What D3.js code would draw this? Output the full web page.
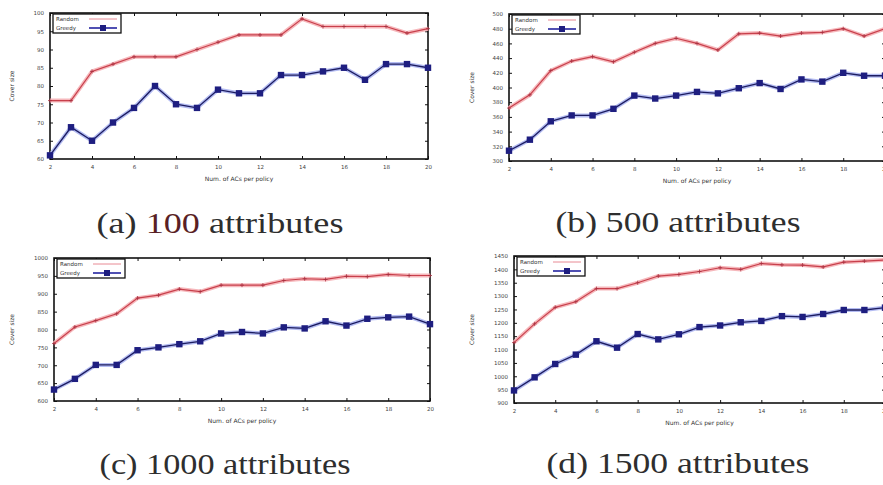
<!DOCTYPE html>
<html>
<head>
<meta charset="utf-8">
<script src="https://cdn.jsdelivr.net/npm/d3@7"></script>
<style>
  body { margin: 0; background: #fff; }
  svg { display: block; }
  .tick text { font-family: "DejaVu Sans", sans-serif; font-size: 5.5px; fill: #444; }
  .tick line { stroke: #111; stroke-width: 1; }
  .domain { display: none; }
</style>
</head>
<body>
<div id="chart"></div>
<script>
// x values: number of ACs per policy
const numACs = [2, 3, 4, 5, 6, 7, 8, 9, 10, 11, 12, 13, 14, 15, 16, 17, 18, 19, 20];
const xTicks = [2, 4, 6, 8, 10, 12, 14, 16, 18, 20];

// (a) 100 attributes
const random100 = [76, 76, 84, 86, 88, 88, 88, 90, 92, 94, 94, 94, 98.4, 96.3, 96.3, 96.3, 96.3, 94.5, 95.7];
const greedy100 = [61, 68.7, 65, 70, 74, 80, 75, 74, 79, 78, 78, 83, 83, 84, 85, 81.7, 86, 86, 85];
const yTicks100 = [60, 65, 70, 75, 80, 85, 90, 95, 100];

// (b) 500 attributes
const random500 = [372, 390, 423, 436, 442, 435, 448, 460, 467, 460, 451, 473, 474, 470, 474, 475, 480, 470, 480];
const greedy500 = [314, 329, 354, 362, 362, 371, 389, 385, 389, 394, 392, 399, 406, 398, 411, 408, 420, 416, 416];
const yTicks500 = [300, 320, 340, 360, 380, 400, 420, 440, 460, 480, 500];

// (c) 1000 attributes
const random1000 = [761, 807, 825, 844, 888, 896, 913, 906, 924, 924, 924, 937, 942, 940, 949, 948, 954, 951, 951];
const greedy1000 = [632, 662, 701, 701, 742, 750, 759, 767, 789, 793, 789, 806, 803, 823, 811, 830, 834, 836, 815];
const yTicks1000 = [600, 650, 700, 750, 800, 850, 900, 950, 1000];

// (d) 1500 attributes
const random1500 = [1126, 1196, 1258, 1279, 1328, 1328, 1350, 1375, 1381, 1392, 1406, 1400, 1422, 1417, 1416, 1409, 1427, 1431, 1435];
const greedy1500 = [947, 996, 1046, 1081, 1131, 1107, 1158, 1138, 1157, 1184, 1190, 1202, 1207, 1225, 1222, 1233, 1248, 1248, 1257];
const yTicks1500 = [900, 950, 1000, 1050, 1100, 1150, 1200, 1250, 1300, 1350, 1400, 1450];

const seriesNames = ["Random", "Greedy"];
const captionsLabel = ["(a) ", "(b) ", "(c) ", "(d) "];
const captionsNum = ["100", "500", "1000", "1500"];

// layout of each panel (frame box, caption position)
const panels = [
  { random: random100, greedy: greedy100, yTicks: yTicks100,
    x0: 50, x1: 428, y0: 13, y1: 159, ylabX: 14, capX: 220, capY: 233, capW: 247, numColor: "#5a1f25" },
  { random: random500, greedy: greedy500, yTicks: yTicks500,
    x0: 509, x1: 885, y0: 14, y1: 161, ylabX: 474, capX: 678, capY: 232, capW: 245, numColor: "#2e2e2e" },
  { random: random1000, greedy: greedy1000, yTicks: yTicks1000,
    x0: 54, x1: 430, y0: 258, y1: 401, ylabX: 14, capX: 225, capY: 474, capW: 251, numColor: "#2e2e2e" },
  { random: random1500, greedy: greedy1500, yTicks: yTicks1500,
    x0: 514, x1: 885, y0: 256, y1: 403, ylabX: 474, capX: 678, capY: 473, capW: 263, numColor: "#2e2e2e" }
];

const svg = d3.select("#chart").append("svg")
  .attr("width", 883)
  .attr("height", 485);

const fmt = d3.format("d");

panels.forEach((p, i) => {
  const g = svg.append("g");
  const x = d3.scaleLinear().domain([2, 20]).range([p.x0, p.x1]);
  const y = d3.scaleLinear()
    .domain([p.yTicks[0], p.yTicks[p.yTicks.length - 1]])
    .range([p.y1, p.y0]);

  // axes with inward ticks on all four sides
  g.append("g").attr("transform", `translate(0,${p.y1})`)
    .call(d3.axisBottom(x).tickValues(xTicks).tickFormat(fmt).tickSizeInner(-3).tickSizeOuter(0).tickPadding(6));
  g.append("g").attr("transform", `translate(0,${p.y0})`)
    .call(d3.axisTop(x).tickValues(xTicks).tickSizeInner(-3).tickSizeOuter(0).tickFormat(""));
  g.append("g").attr("transform", `translate(${p.x0},0)`)
    .call(d3.axisLeft(y).tickValues(p.yTicks).tickFormat(fmt).tickSizeInner(-3).tickSizeOuter(0).tickPadding(6));
  g.append("g").attr("transform", `translate(${p.x1},0)`)
    .call(d3.axisRight(y).tickValues(p.yTicks).tickSizeInner(-3).tickSizeOuter(0).tickFormat(""));

  // frame
  g.append("rect")
    .attr("x", p.x0).attr("y", p.y0)
    .attr("width", p.x1 - p.x0).attr("height", p.y1 - p.y0)
    .attr("fill", "none").attr("stroke", "#111").attr("stroke-width", 1.6);

  const line = d3.line().x((d, k) => x(numACs[k])).y(d => y(d));

  // random: red line with pink glow
  g.append("path").datum(p.random).attr("d", line)
    .attr("fill", "none").attr("stroke", "#f6b8bc").attr("stroke-width", 4);
  g.append("path").datum(p.random).attr("d", line)
    .attr("fill", "none").attr("stroke", "#c8404c").attr("stroke-width", 1.2);
  g.selectAll(".plus").data(p.random).enter().append("path")
    .attr("d", (d, k) => `M${x(numACs[k]) - 2},${y(d)}h4M${x(numACs[k])},${y(d) - 2}v4`)
    .attr("stroke", "#a83040").attr("stroke-width", 0.8);

  // greedy: blue line with squares
  g.append("path").datum(p.greedy).attr("d", line)
    .attr("fill", "none").attr("stroke", "#b4bcf2").attr("stroke-width", 4);
  g.append("path").datum(p.greedy).attr("d", line)
    .attr("fill", "none").attr("stroke", "#1c1c60").attr("stroke-width", 1.3);
  g.selectAll(".sq").data(p.greedy).enter().append("rect")
    .attr("x", (d, k) => x(numACs[k]) - 3.2)
    .attr("y", d => y(d) - 3.2)
    .attr("width", 6.4).attr("height", 6.4)
    .attr("fill", "#1e1e80");

  // legend
  const lx = p.x0 + 3, ly = p.y0 + 1;
  const leg = g.append("g");
  leg.append("rect").attr("x", lx).attr("y", ly).attr("width", 68).attr("height", 19)
    .attr("fill", "#fff").attr("stroke", "#111").attr("stroke-width", 1.3);
  seriesNames.forEach((name, k) => {
    const yy = ly + 5 + k * 9;
    leg.append("text").attr("x", lx + 3).attr("y", yy + 2)
      .attr("font-family", "DejaVu Sans, sans-serif").attr("font-size", 5.5).attr("fill", "#333")
      .text(name);
    leg.append("line").attr("x1", lx + 36).attr("x2", lx + 64).attr("y1", yy).attr("y2", yy)
      .attr("stroke", k === 0 ? "#e88a94" : "#2424a0").attr("stroke-width", k === 0 ? 1 : 1.6);
    if (k === 1) {
      leg.append("rect").attr("x", lx + 47).attr("y", yy - 3).attr("width", 6).attr("height", 6)
        .attr("fill", "#1e1e80");
    }
  });

  // axis titles
  g.append("text")
    .attr("x", (p.x0 + p.x1) / 2).attr("y", p.y1 + 22)
    .attr("text-anchor", "middle")
    .attr("font-family", "DejaVu Sans, sans-serif").attr("font-size", 6).attr("fill", "#333")
    .text("Num. of ACs per policy");
  g.append("text")
    .attr("transform", `translate(${p.ylabX},${(p.y0 + p.y1) / 2}) rotate(-90)`)
    .attr("text-anchor", "middle")
    .attr("font-family", "DejaVu Sans, sans-serif").attr("font-size", 6).attr("fill", "#333")
    .text("Cover size");

  // caption
  const cap = svg.append("text")
    .attr("x", p.capX).attr("y", p.capY)
    .attr("text-anchor", "middle")
    .attr("font-family", "Liberation Serif, serif").attr("font-size", 29).attr("fill", "#2e2e2e")
    .attr("textLength", p.capW).attr("lengthAdjust", "spacingAndGlyphs");
  cap.append("tspan").text(captionsLabel[i]);
  cap.append("tspan").attr("fill", p.numColor).text(captionsNum[i]);
  cap.append("tspan").text(" attributes");
});
</script>
</body>
</html>
